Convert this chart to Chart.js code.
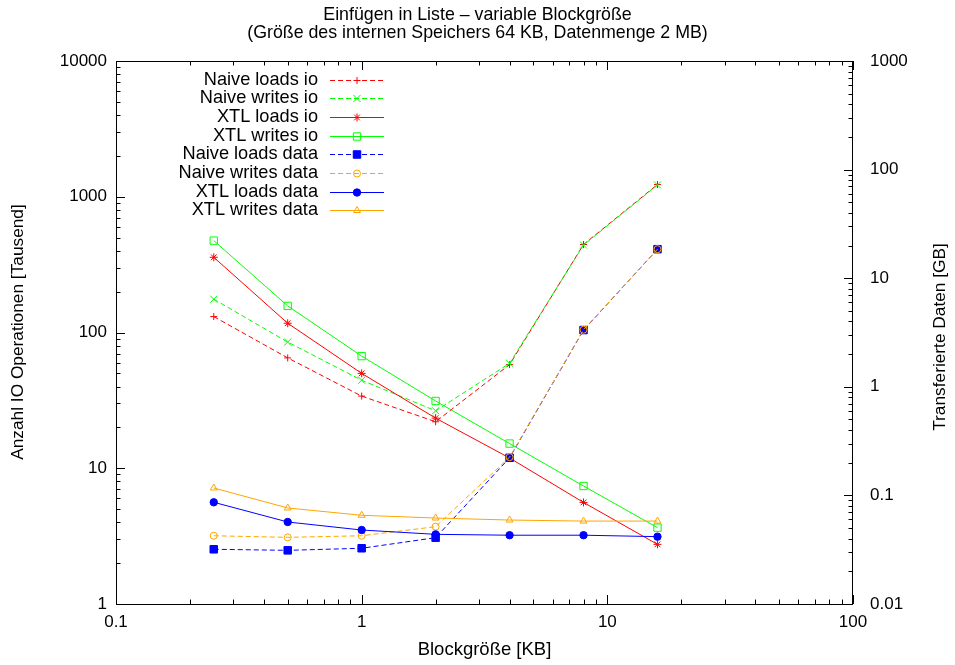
<!DOCTYPE html>
<html>
<head>
<meta charset="utf-8">
<script src="https://cdn.jsdelivr.net/npm/chart.js@4/dist/chart.umd.min.js"></script>
<style>
  html, body { margin: 0; padding: 0; background: #fff; }
  #wrap { width: 955px; height: 665px; }
</style>
</head>
<body>
<div id="wrap"><canvas id="ioChart" width="955" height="665"></canvas></div>
<script>
// block sizes in KB
const blockSizes = [0.25, 0.5, 1, 2, 4, 8, 16];

// IO operations in thousands (left axis)
const naiveLoadsIo = [131, 65, 34, 22, 58, 445, 1230];
const naiveWritesIo = [176, 85, 44.5, 26.5, 59.3, 441, 1221];
const xtlLoadsIo = [358, 117, 50, 23.4, 11.9, 5.6, 2.75];
const xtlWritesIo = [475, 157, 67, 31.3, 15.2, 7.4, 3.65];

// transferred data in GB (right axis)
const naiveLoadsData = [0.0319, 0.0312, 0.0326, 0.0408, 0.222, 3.33, 18.5];
const naiveWritesData = [0.0425, 0.0411, 0.0425, 0.0515, 0.225, 3.35, 18.5];
const xtlLoadsData = [0.0864, 0.0569, 0.048, 0.0438, 0.043, 0.043, 0.0417];
const xtlWritesData = [0.117, 0.0766, 0.0656, 0.0619, 0.0593, 0.058, 0.058];

const seriesLabels = [
  'Naive loads io', 'Naive writes io', 'XTL loads io', 'XTL writes io',
  'Naive loads data', 'Naive writes data', 'XTL loads data', 'XTL writes data'
];

const xTicks = [0.1, 1, 10, 100];
const xTickLabels = ['0.1', '1', '10', '100'];
const yTicks = [1, 10, 100, 1000, 10000];
const yTickLabels = ['1', '10', '100', '1000', '10000'];
const y2Ticks = [0.01, 0.1, 1, 10, 100, 1000];
const y2TickLabels = ['0.01', '0.1', '1', '10', '100', '1000'];

const RED = '#ff0000', GREEN = '#00ff00', BLUE = '#0000ff', ORANGE = '#ffa500';
const DASH = [5, 3];
const FONT = '"Liberation Sans", Arial, Helvetica, sans-serif';

// line / marker look per series, in the same order as seriesLabels
const styles = [
  { values: naiveLoadsIo, axis: 'y', color: RED, dash: DASH, point: 'cross', r: 3.5, filled: false },
  { values: naiveWritesIo, axis: 'y', color: GREEN, dash: DASH, point: 'crossRot', r: 5, filled: false },
  { values: xtlLoadsIo, axis: 'y', color: RED, dash: [], point: 'star', r: 4, filled: false },
  { values: xtlWritesIo, axis: 'y', color: GREEN, dash: [], point: 'rect', r: 5.2, filled: false },
  { values: naiveLoadsData, axis: 'y2', color: BLUE, dash: DASH, point: 'rect', r: 5.3, filled: true },
  { values: naiveWritesData, axis: 'y2', color: ORANGE, dash: DASH, point: 'circle', r: 3.5, filled: false },
  { values: xtlLoadsData, axis: 'y2', color: BLUE, dash: [], point: 'circle', r: 3.7, filled: true },
  { values: xtlWritesData, axis: 'y2', color: ORANGE, dash: [], point: 'triangle', r: 4, filled: false }
];

const datasets = styles.map((s, i) => ({
  label: seriesLabels[i],
  data: blockSizes.map((x, j) => ({ x: x, y: s.values[j] })),
  yAxisID: s.axis,
  borderColor: s.color,
  backgroundColor: s.color,
  borderWidth: 1,
  borderDash: s.dash,
  tension: 0,
  pointStyle: s.point,
  pointRadius: s.r,
  pointBorderWidth: 1,
  pointBorderColor: s.color,
  pointBackgroundColor: s.filled ? s.color : 'rgba(0,0,0,0)',
  order: styles.length - i   // later series on top
}));

// gnuplot-like frame with inward major/minor ticks
function logTicks(min, max) {
  const out = [];
  for (let e = Math.floor(Math.log10(min)); e <= Math.ceil(Math.log10(max)); e++) {
    for (let m = 1; m <= 9; m++) {
      const v = m * Math.pow(10, e);
      if (v >= min * 0.9999 && v <= max * 1.0001) out.push({ v: v, major: m === 1 });
    }
  }
  return out;
}

const framePlugin = {
  id: 'frame',
  beforeDatasetsDraw(chart) {
    const { ctx, chartArea: a, scales } = chart;
    ctx.save();
    ctx.strokeStyle = '#000';
    ctx.lineWidth = 1;
    ctx.setLineDash([]);
    ctx.strokeRect(a.left + 0.5, a.top + 0.5, a.right - a.left - 1, a.bottom - a.top);
    ctx.beginPath();
    logTicks(scales.x.min, scales.x.max).forEach(t => {
      const px = Math.round(scales.x.getPixelForValue(t.v)) + 0.5;
      const len = t.major ? 9 : 4.5;
      ctx.moveTo(px, a.bottom); ctx.lineTo(px, a.bottom - len);
      ctx.moveTo(px, a.top); ctx.lineTo(px, a.top + len);
    });
    logTicks(scales.y.min, scales.y.max).forEach(t => {
      const py = Math.round(scales.y.getPixelForValue(t.v)) + 0.5;
      const len = t.major ? 9 : 4.5;
      ctx.moveTo(a.left, py); ctx.lineTo(a.left + len, py);
    });
    logTicks(scales.y2.min, scales.y2.max).forEach(t => {
      const py = Math.round(scales.y2.getPixelForValue(t.v)) + 0.5;
      const len = t.major ? 9 : 4.5;
      ctx.moveTo(a.right, py); ctx.lineTo(a.right - len, py);
    });
    ctx.stroke();
    ctx.restore();
  }
};

// titles, axis titles and the key box
const textPlugin = {
  id: 'texts',
  afterDraw(chart) {
    const { ctx, chartArea: a } = chart;
    ctx.save();
    ctx.fillStyle = '#000';
    ctx.textBaseline = 'middle';
    ctx.font = '17.8px ' + FONT;
    ctx.textAlign = 'center';
    ctx.fillText('Einfügen in Liste – variable Blockgröße', 477.5, 15);
    ctx.fillText('(Größe des internen Speichers 64 KB, Datenmenge 2 MB)', 477.5, 33);

    ctx.font = '18.5px ' + FONT;
    ctx.fillText('Blockgröße [KB]', (a.left + a.right) / 2, 650);

    ctx.font = '17.3px ' + FONT;
    ctx.save();
    ctx.translate(18, 332);
    ctx.rotate(-Math.PI / 2);
    ctx.fillText('Anzahl IO Operationen [Tausend]', 0, 0);
    ctx.restore();
    ctx.save();
    ctx.translate(940, 337);
    ctx.rotate(-Math.PI / 2);
    ctx.fillText('Transferierte Daten [GB]', 0, 0);
    ctx.restore();

    // key
    ctx.font = '18.2px ' + FONT;
    ctx.textAlign = 'right';
    styles.forEach((s, i) => {
      const y = 79.5 + i * 18.7;
      ctx.fillStyle = '#000';
      ctx.fillText(seriesLabels[i], 318, y);
      ctx.strokeStyle = s.color;
      ctx.lineWidth = 1;
      ctx.setLineDash(s.dash);
      ctx.beginPath();
      ctx.moveTo(330, Math.round(y) + 0.5);
      ctx.lineTo(384, Math.round(y) + 0.5);
      ctx.stroke();
      ctx.setLineDash([]);
      ctx.fillStyle = s.filled ? s.color : 'rgba(0,0,0,0)';
      Chart.helpers.drawPoint(ctx, { pointStyle: s.point, radius: s.r, rotation: 0, borderWidth: 1 }, 357, Math.round(y) + 0.5);
    });
    ctx.restore();
  }
};

Chart.defaults.font.family = FONT;
Chart.defaults.color = '#000';

const ctx = document.getElementById('ioChart').getContext('2d');
const chart = new Chart(ctx, {
  type: 'line',
  data: { datasets: datasets },
  options: {
    responsive: false,
    animation: false,
    layout: { padding: { top: 61, left: 0, right: 0, bottom: 0 } },
    plugins: { legend: { display: false }, tooltip: { enabled: false }, title: { display: false } },
    scales: {
      x: {
        type: 'logarithmic',
        min: 0.1,
        max: 100,
        grid: { display: false, drawTicks: false },
        border: { display: false },
        afterBuildTicks: s => { s.ticks = xTicks.map(v => ({ value: v })); },
        afterFit: s => { s.height = 61; },
        ticks: {
          autoSkip: false, maxRotation: 0, padding: 8,
          font: { size: 17 },
          callback: (v, i) => xTickLabels[i]
        }
      },
      y: {
        type: 'logarithmic',
        position: 'left',
        min: 1,
        max: 10000,
        grid: { display: false, drawTicks: false },
        border: { display: false },
        afterBuildTicks: s => { s.ticks = yTicks.map(v => ({ value: v })); },
        afterFit: s => { s.width = 116; },
        ticks: {
          autoSkip: false, padding: 9,
          font: { size: 17 },
          callback: (v, i) => yTickLabels[i]
        }
      },
      y2: {
        type: 'logarithmic',
        position: 'right',
        min: 0.01,
        max: 1000,
        grid: { display: false, drawTicks: false },
        border: { display: false },
        afterBuildTicks: s => { s.ticks = y2Ticks.map(v => ({ value: v })); },
        afterFit: s => { s.width = 102; },
        ticks: {
          autoSkip: false, padding: 17,
          font: { size: 17 },
          callback: (v, i) => y2TickLabels[i]
        }
      }
    }
  },
  plugins: [framePlugin, textPlugin]
});
</script>
</body>
</html>
